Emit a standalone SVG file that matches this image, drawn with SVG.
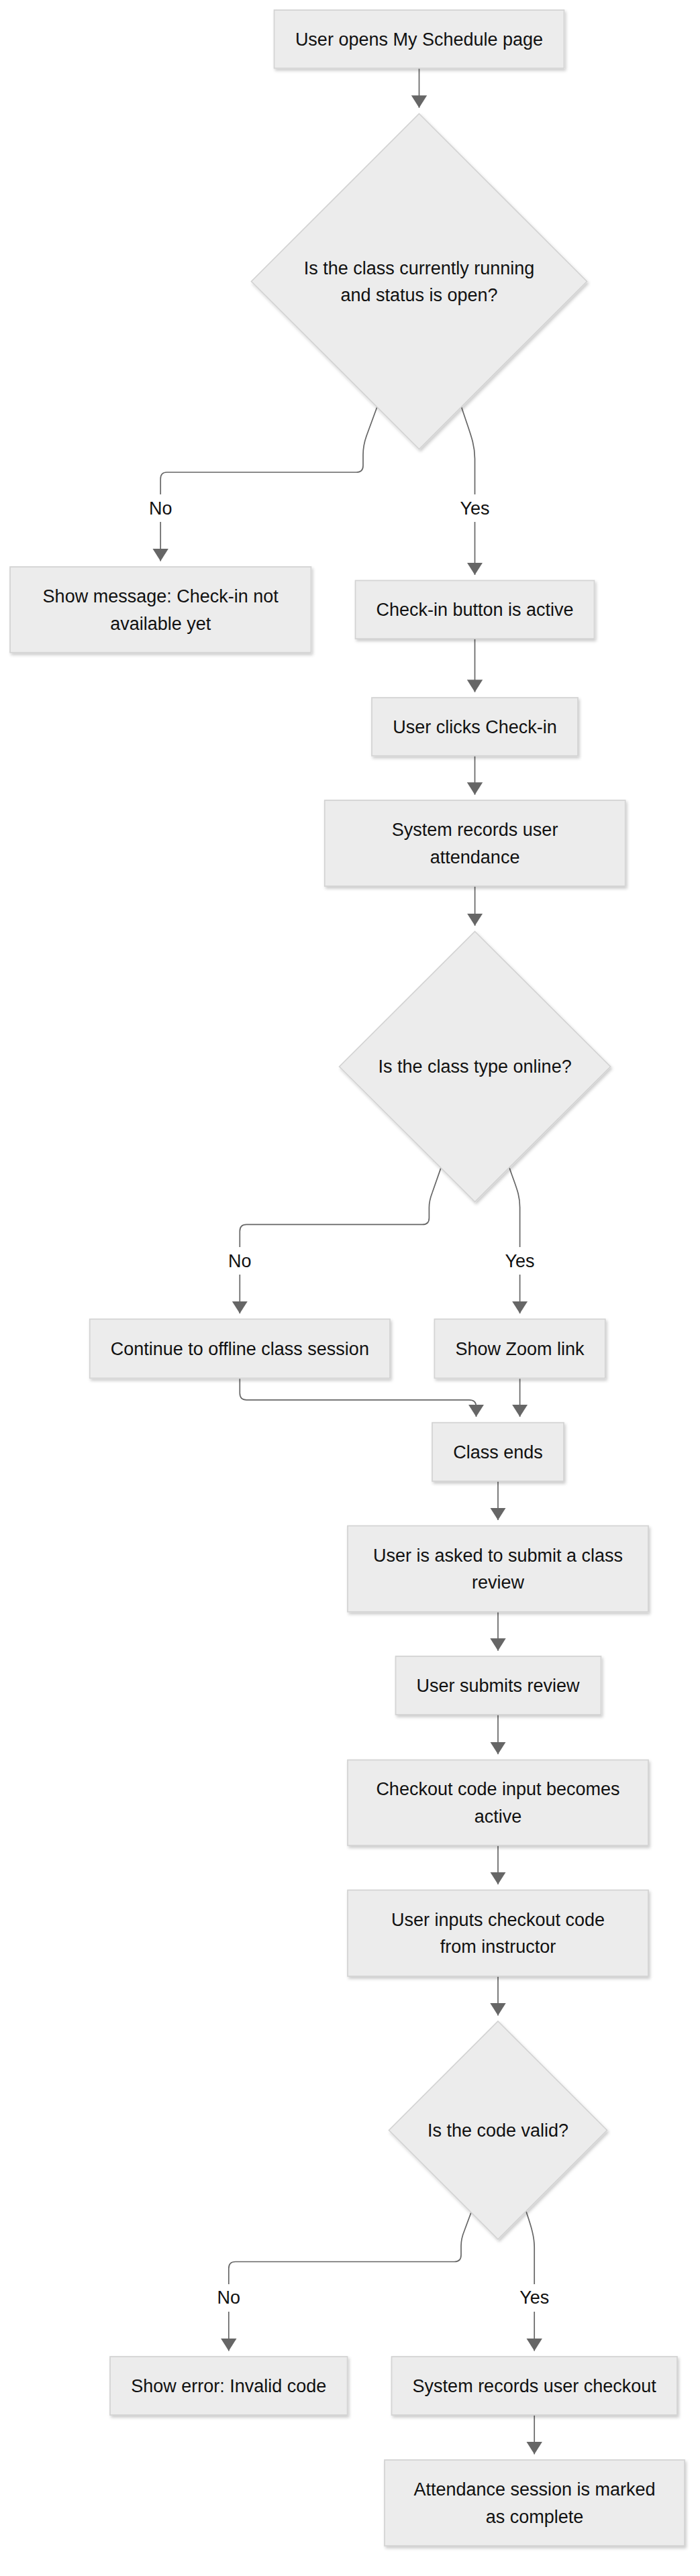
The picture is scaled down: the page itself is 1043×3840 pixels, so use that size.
<svg xmlns="http://www.w3.org/2000/svg" width="1043" height="3840" viewBox="0 0 1043 3840">
<style>
.n{fill:#ececec;stroke:#d3d3d3;stroke-width:1.7;filter:url(#sh)}
.t{font-family:"Liberation Sans",Arial,Helvetica,sans-serif;font-size:27px;fill:#111;text-anchor:middle}
.e{fill:none;stroke:#666;stroke-width:1.7;marker-end:url(#ah)}
.lb{fill:#fff}
</style>
<defs>
<filter id="sh" x="-10%" y="-10%" width="130%" height="140%">
<feDropShadow dx="2" dy="3" stdDeviation="2" flood-color="#000" flood-opacity="0.2"/>
</filter>
<marker id="ah" markerUnits="userSpaceOnUse" viewBox="0 0 19 24" markerWidth="19" markerHeight="24" refX="18.4" refY="12" orient="auto">
<path d="M0,0.3 L18.4,12 L0,23.7 z" fill="#666"/>
</marker>
</defs>
<rect width="1043" height="3840" fill="#fff"/>
<g id="connectors">
<path class="e" d="M624.5,101.7 L624.5,160.7"/>
<path class="e" d="M561.8,606.8 L546,650 Q541,664 541,678 L541,694 Q541,704 531,704 L248.6,704 Q239.2,704 239.2,714 L239.2,836.5"/>
<path class="e" d="M687.5,606.5 C700,645 707.5,660 707.5,684 L707.5,857"/>
<path class="e" d="M707.5,952 L707.5,1031.7"/>
<path class="e" d="M707.5,1126.7 L707.5,1184.7"/>
<path class="e" d="M707.6,1321 L707.6,1380"/>
<path class="e" d="M657,1740.9 L644,1778 Q639.4,1790 639.4,1800 L639.4,1815.4 Q639.4,1825.4 629.4,1825.4 L367.3,1825.4 Q357.3,1825.4 357.3,1835.4 L357.3,1958"/>
<path class="e" d="M758.8,1740.3 C769,1770 774.6,1780 774.6,1800 L774.6,1958"/>
<path class="e" d="M357.3,2054.5 L357.3,2076.8 Q357.3,2086.8 367.3,2086.8 L699,2086.8 Q709.5,2086.8 709.5,2097 L709.5,2112"/>
<path class="e" d="M774.6,2054.5 L774.6,2112"/>
<path class="e" d="M742,2208 L742,2266"/>
<path class="e" d="M742,2402.7 L742,2460.7"/>
<path class="e" d="M742,2556 L742,2615"/>
<path class="e" d="M742,2751 L742,2809"/>
<path class="e" d="M742,2946 L742,3004.5"/>
<path class="e" d="M702,3298 L692,3325 Q687,3337 687,3348 L687,3361.5 Q687,3371.5 677,3371.5 L350.8,3371.5 Q340.8,3371.5 340.8,3381.5 L340.8,3504.5"/>
<path class="e" d="M783.8,3296.2 C792,3320 796.2,3335 796.2,3350 L796.2,3504.5"/>
<path class="e" d="M796.2,3600 L796.2,3658.5"/>
<rect class="lb" x="221.5" y="737" width="36" height="41"/>
<text class="t" x="239.2" y="766.9">No</text>
<rect class="lb" x="683.5" y="737" width="48" height="41"/>
<text class="t" x="707.5" y="766.9">Yes</text>
<rect class="lb" x="339.3" y="1859" width="36" height="41"/>
<text class="t" x="357.3" y="1888.7">No</text>
<rect class="lb" x="750.6" y="1859" width="48" height="41"/>
<text class="t" x="774.6" y="1888.7">Yes</text>
<rect class="lb" x="322.8" y="3405" width="36" height="41"/>
<text class="t" x="340.8" y="3434.4">No</text>
<rect class="lb" x="772.2" y="3405" width="48" height="41"/>
<text class="t" x="796.2" y="3434.4">Yes</text>
</g>
<g id="n1"><rect class="n" x="408.5" y="15" width="432" height="86.7"/><text class="t" x="624.5" y="67.8">User opens My Schedule page</text></g>
<g id="d1"><polygon class="n" points="624.5,169.5 874.5,419.5 624.5,669.5 374.5,419.5"/><text class="t" x="624.5" y="408.7">Is the class currently running</text><text class="t" x="624.5" y="449.2">and status is open?</text></g>
<g id="n3"><rect class="n" x="15" y="845" width="448.5" height="127.7"/><text class="t" x="239.2" y="898">Show message: Check-in not</text><text class="t" x="239.2" y="938.5">available yet</text></g>
<g id="n4"><rect class="n" x="529.5" y="865.4" width="356" height="86.7"/><text class="t" x="707.5" y="918.2">Check-in button is active</text></g>
<g id="n5"><rect class="n" x="554" y="1040" width="307" height="86.7"/><text class="t" x="707.5" y="1092.8">User clicks Check-in</text></g>
<g id="n6"><rect class="n" x="483.7" y="1193" width="448" height="128"/><text class="t" x="707.6" y="1246.2">System records user</text><text class="t" x="707.6" y="1286.7">attendance</text></g>
<g id="d2"><polygon class="n" points="707.6,1388.5 909.6,1590 707.6,1791.5 505.6,1590"/><text class="t" x="707.6" y="1599.4">Is the class type online?</text></g>
<g id="n8"><rect class="n" x="133.7" y="1966.4" width="447.3" height="88.1"/><text class="t" x="357.3" y="2019.9">Continue to offline class session</text></g>
<g id="n9"><rect class="n" x="647.4" y="1966.4" width="254.4" height="88.1"/><text class="t" x="774.6" y="2019.9">Show Zoom link</text></g>
<g id="n10"><rect class="n" x="644" y="2120.7" width="196" height="87.3"/><text class="t" x="742" y="2173.8">Class ends</text></g>
<g id="n11"><rect class="n" x="518" y="2274.5" width="448" height="128.2"/><text class="t" x="742" y="2327.8">User is asked to submit a class</text><text class="t" x="742" y="2368.3">review</text></g>
<g id="n12"><rect class="n" x="589.5" y="2469" width="306" height="87"/><text class="t" x="742" y="2521.9">User submits review</text></g>
<g id="n13"><rect class="n" x="518" y="2623.5" width="448" height="127.5"/><text class="t" x="742" y="2676.4">Checkout code input becomes</text><text class="t" x="742" y="2716.9">active</text></g>
<g id="n14"><rect class="n" x="518" y="2817.5" width="448" height="128.5"/><text class="t" x="742" y="2870.9">User inputs checkout code</text><text class="t" x="742" y="2911.4">from instructor</text></g>
<g id="d3"><polygon class="n" points="742,3013 904.5,3175.5 742,3338 579.5,3175.5"/><text class="t" x="742" y="3184.9">Is the code valid?</text></g>
<g id="n16"><rect class="n" x="164" y="3513" width="353.6" height="87"/><text class="t" x="340.8" y="3565.9">Show error: Invalid code</text></g>
<g id="n17"><rect class="n" x="583.5" y="3513" width="425.5" height="87"/><text class="t" x="796.2" y="3565.9">System records user checkout</text></g>
<g id="n18"><rect class="n" x="573" y="3667" width="447" height="128"/><text class="t" x="796.5" y="3720.2">Attendance session is marked</text><text class="t" x="796.5" y="3760.7">as complete</text></g>
</svg>
